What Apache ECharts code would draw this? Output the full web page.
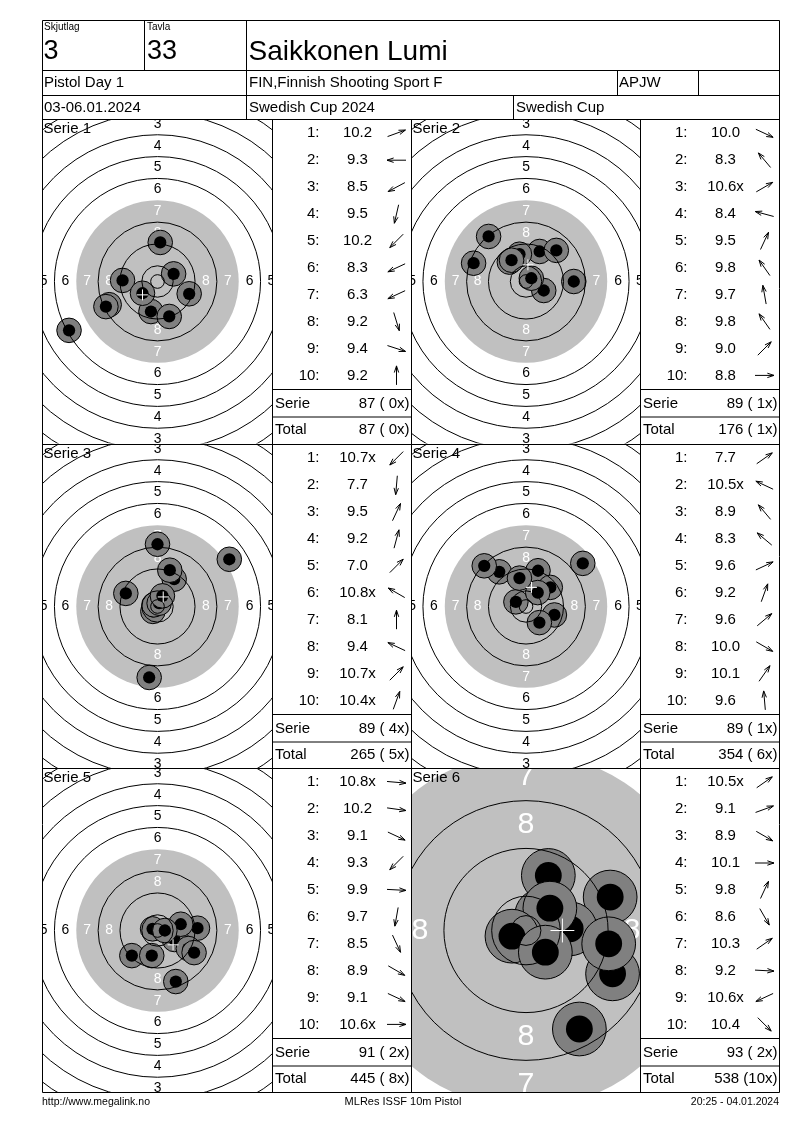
<!DOCTYPE html>
<html><head><meta charset="utf-8">
<script src="https://cdn.jsdelivr.net/npm/echarts@6/dist/echarts.min.js"></script>
<style>html,body{margin:0;padding:0;background:#fff;}#c{width:800px;height:1130px;}</style>
</head><body><div id="c"></div>
<script>
// ---------- DATA ----------
const shooterGroup = '3';
const targetNo = '33';
const shooterName = 'Saikkonen Lumi';
const eventName = 'Pistol Day 1';
const clubName = 'FIN,Finnish Shooting Sport F';
const classCode = 'APJW';
const dateText = '03-06.01.2024';
const competition = 'Swedish Cup 2024';
const competitionShort = 'Swedish Cup';
const footerLeft = 'http://www.megalink.no';
const footerMid = 'MLRes ISSF 10m Pistol';
const footerRight = '20:25 - 04.01.2024';
const serieNames = ['Serie 1','Serie 2','Serie 3','Serie 4','Serie 5','Serie 6'];

// ISSF 10m pistol target (mm)
const ringLineRadii = [77.75, 69.75, 61.75, 53.75, 45.75, 37.75, 21.75, 13.75, 5.75, 2.5];
const blackAreaRadius = [29.75];
const ringLabelValues = [1, 2, 3, 4, 5, 6, 7, 8];
const ringLabelRadii = [73.75, 65.75, 57.75, 49.75, 41.75, 33.75, 25.75, 17.75];

// shots (mm from centre, y up), score text, arrow direction (deg)
const serie1X = [5.9, -12.8, -17.7, -2.4, -5.5, -18.9, -32.4, 4.3, 11.6, 1.0];
const serie1Y = [2.8, 0.4, -8.5, -11.0, -4.3, -9.2, -17.9, -12.8, -4.5, 14.3];
const serie1Score = ['10.2','9.3','8.5','9.5','10.2','8.3','6.3','9.2','9.4','9.2'];
const serie1Dir = [20, 180, 208, 257, 225, 205, 205, 287, -18, 90];

const serie2X = [6.5, -13.7, 1.95, -19.2, 5.0, -6.1, -2.4, -5.3, 11.1, 17.5];
const serie2Y = [-3.3, 16.5, 1.2, 6.7, 11.0, 7.1, 10.0, 7.8, 11.4, 0];
const serie2Score = ['10.0','8.3','10.6x','8.4','9.5','9.8','9.7','9.8','9.0','8.8'];
const serie2Dir = [-25, 130, 30, 165, 65, 125, 100, 125, 45, 0];

const serie3X = [-1.7, -3.05, 6.1, 4.5, 26.3, -1.3, 0, -11.6, 0.6, 1.8];
const serie3Y = [-1.8, -26.0, 10.0, 13.3, 17.3, 0.6, 22.8, 4.8, 1.2, 3.9];
const serie3Score = ['10.7x','7.7','9.5','9.2','7.0','10.8x','8.1','9.4','10.7x','10.4x'];
const serie3Dir = [225, 265, 65, 75, 45, 150, 90, 155, 45, 70];

const serie4X = [20.8, -3.7, -9.8, -15.3, 10.4, 4.4, 8.9, 4.9, 4.3, -2.4];
const serie4Y = [15.8, 1.7, 12.7, 14.9, -3.1, 13.1, 7.0, -5.9, 5.1, 10.4];
const serie4Score = ['7.7','10.5x','8.9','8.3','9.6','9.2','9.6','10.0','10.1','9.6'];
const serie4Dir = [35, 155, 130, 140, 25, 70, 40, -30, 55, 95];

const serie5X = [-1.8, 6.2, 14.65, -9.4, 8.5, -2.1, 6.7, 11.3, 13.4, 2.7];
const serie5Y = [0.6, -3.3, 0.85, -9.2, 2.3, -9.2, -18.7, -6.6, -8.1, 0];
const serie5Score = ['10.8x','10.2','9.1','9.3','9.9','9.7','8.5','8.9','9.1','10.6x'];
const serie5Dir = [-5, -8, -25, 225, -3, 260, -65, -30, -25, 0];

const serie6X = [2.6, 14.1, 14.5, 7.4, 3.74, 8.94, 4.0, 13.85, -2.35, 3.24];
const serie6Y = [2.5, 5.6, -7.26, 0.28, 9.22, -16.5, 3.74, -2.23, -0.95, -3.63];
const serie6Score = ['10.5x','9.1','8.9','10.1','9.8','8.6','10.3','9.2','10.6x','10.4'];
const serie6Dir = [35, 20, -30, 0, 65, -60, 35, -3, 205, -45];

const groupCenterX = [-5.5, 0.7, 2.1, 2.0, 5.7, 6.1];
const groupCenterY = [-4.9, 6.1, 3.5, 7.0, -5.25, 0];

const serieTotals = ['87 ( 0x)','89 ( 1x)','89 ( 4x)','89 ( 1x)','91 ( 2x)','93 ( 2x)'];
const runningTotals = ['87 ( 0x)','176 ( 1x)','265 ( 5x)','354 ( 6x)','445 ( 8x)','538 (10x)'];

// ---------- LAYOUT ----------
const FONT = '"Liberation Sans", Arial, Helvetica, sans-serif';
const allX = [serie1X, serie2X, serie3X, serie4X, serie5X, serie6X];
const allY = [serie1Y, serie2Y, serie3Y, serie4Y, serie5Y, serie6Y];
const allScore = [serie1Score, serie2Score, serie3Score, serie4Score, serie5Score, serie6Score];
const allDir = [serie1Dir, serie2Dir, serie3Dir, serie4Dir, serie5Dir, serie6Dir];

const L = 42.5, C1 = 272.5, C2 = 411.5, C3 = 640.5, R = 779.5;
const rowTops = [119.5, 444.5, 768.5];
const ROWH = 324;
const cells = [];
for (let i = 0; i < 6; i++) {
  const col = i % 2, row = Math.floor(i / 2);
  cells.push({
    x: col ? C2 : L, w: col ? (C3 - C2) : (C1 - L),
    y: rowTops[row], h: ROWH,
    tx: col ? C3 : C1, tw: col ? (R - C3) : (C2 - C1),
    scale: i === 5 ? 5.97 : 2.73
  });
}

const grids = [], xAxes = [], yAxes = [], series = [];
cells.forEach((c, i) => {
  grids.push({left: c.x, top: c.y, width: c.w, height: c.h, containLabel: false});
  const hw = c.w / 2 / c.scale, hh = c.h / 2 / c.scale;
  xAxes.push({type: 'value', gridIndex: i, min: -hw, max: hw, show: false});
  yAxes.push({type: 'value', gridIndex: i, min: -hh, max: hh, show: false});
  const base = {type: 'custom', xAxisIndex: i, yAxisIndex: i, clip: true, silent: true, animation: false};
  // black (grey) aiming area
  series.push(Object.assign({}, base, {
    z: 1, data: blackAreaRadius.map(r => [r, 0]), encode: {x: 0, y: 1},
    renderItem: (p, api) => {
      const ctr = api.coord([0, 0]);
      const r = api.size([api.value(0), 0])[0];
      return {type: 'circle', shape: {cx: ctr[0], cy: ctr[1], r: r}, style: {fill: '#c0c0c0', stroke: null}};
    }
  }));
  // ring numbers
  series.push(Object.assign({}, base, {
    z: 2, data: ringLabelValues.map((v, k) => [ringLabelRadii[k], 0, v]), encode: {x: 0, y: 1},
    renderItem: (p, api) => {
      const r = api.value(0), v = api.value(2);
      const fs = api.size([5.1, 0])[0];
      const col = v >= 7 ? '#ffffff' : '#000000';
      const pts = [[0, r], [0, -r], [r, 0], [-r, 0]];
      return {type: 'group', children: pts.map(pt => {
        const q = api.coord(pt);
        return {type: 'text', style: {text: String(v), x: q[0], y: q[1], fill: col,
          font: fs.toFixed(1) + 'px ' + FONT, align: 'center', verticalAlign: 'middle',
          textAlign: 'center', textVerticalAlign: 'middle'}};
      })};
    }
  }));
  // shots
  series.push(Object.assign({}, base, {
    z: 3, data: allX[i].map((x, k) => [x, allY[i][k]]), encode: {x: 0, y: 1},
    renderItem: (p, api) => {
      const q = api.coord([api.value(0), api.value(1)]);
      const halo = api.size([4.5, 0])[0];
      const core = api.size([2.25, 0])[0];
      return {type: 'group', children: [
        {type: 'circle', shape: {cx: q[0], cy: q[1], r: halo}, style: {fill: '#808080', stroke: '#000', lineWidth: 1}},
        {type: 'circle', shape: {cx: q[0], cy: q[1], r: core}, style: {fill: '#000', stroke: null}}
      ]};
    }
  }));
  // ring lines
  series.push(Object.assign({}, base, {
    z: 4, data: ringLineRadii.map(r => [r, 0]), encode: {x: 0, y: 1},
    renderItem: (p, api) => {
      const ctr = api.coord([0, 0]);
      const r = api.size([api.value(0), 0])[0];
      return {type: 'circle', shape: {cx: ctr[0], cy: ctr[1], r: r}, style: {fill: 'none', stroke: '#000', lineWidth: 1}};
    }
  }));
  // group centre cross
  series.push(Object.assign({}, base, {
    z: 5, data: [[groupCenterX[i], groupCenterY[i]]], encode: {x: 0, y: 1},
    renderItem: (p, api) => {
      const q = api.coord([api.value(0), api.value(1)]);
      const s = api.size([2, 0])[0];
      return {type: 'group', children: [
        {type: 'line', shape: {x1: q[0] - s, y1: q[1], x2: q[0] + s, y2: q[1]}, style: {stroke: '#fff', lineWidth: 1}},
        {type: 'line', shape: {x1: q[0], y1: q[1] - s, x2: q[0], y2: q[1] + s}, style: {stroke: '#fff', lineWidth: 1}}
      ]};
    }
  }));
});

// ---------- GRAPHIC (frame, header, tables) ----------
const g = [];
const line = (x1, y1, x2, y2) => g.push({type: 'line', z: 100, silent: true,
  shape: {x1, y1, x2, y2}, style: {stroke: '#000', lineWidth: 1}});
const text = (t, x, y, size, align, color) => g.push({type: 'text', z: 101, silent: true,
  style: {text: t, x: x, y: y, fill: color || '#000', font: size + 'px ' + FONT,
    align: align || 'left', verticalAlign: 'middle', textAlign: align || 'left', textVerticalAlign: 'middle'}});

// outer frame & header lines
const TOP = 20.5, H1 = 70.5, H2 = 95.5, BOT = 1092.5;
line(L, TOP, R, TOP); line(L, H1, R, H1); line(L, H2, R, H2);
rowTops.forEach(y => line(L, y, R, y));
line(L, BOT, R, BOT);
line(L, TOP, L, BOT); line(R, TOP, R, BOT);
line(144.5, TOP, 144.5, H1); line(246.5, TOP, 246.5, rowTops[0]);
line(617.5, H1, 617.5, H2); line(698.5, H1, 698.5, H2);
line(513.5, H2, 513.5, rowTops[0]);
line(C1, rowTops[0], C1, BOT); line(C2, rowTops[0], C2, BOT); line(C3, rowTops[0], C3, BOT);

text('Skjutlag', 44, 27, 10);
text('Tavla', 147, 27, 10);
text(shooterGroup, 43.5, 52, 27);
text(targetNo, 147, 52, 27);
text(shooterName, 248.5, 52, 28);
text(eventName, 44, 83, 15);
text(clubName, 249, 83, 15);
text(classCode, 619, 83, 15);
text(dateText, 44, 108, 15);
text(competition, 249, 108, 15);
text(competitionShort, 516, 108, 15);

text(footerLeft, 42, 1102, 10.5);
text(footerMid, 403, 1102, 11, 'center');
text(footerRight, 779, 1102, 10.5, 'right');

cells.forEach((c, i) => {
  text(serieNames[i], c.x + 1, c.y + 9, 15);
  // table
  const yS = c.y + 270, yT = c.y + 297.5;
  line(c.tx, yS, c.tx + c.tw, yS);
  line(c.tx, yT, c.tx + c.tw, yT);
  allScore[i].forEach((s, k) => {
    const cy = c.y + 13.8 + 26.9 * k;
    text((k + 1) + ':', c.tx + 47, cy, 15, 'right');
    text(s, c.tx + 85, cy, 15, 'center');
    const a = allDir[i][k] * Math.PI / 180;
    const ax = c.tx + 124, ay = cy;
    const dx = Math.cos(a), dy = -Math.sin(a);
    const hx = ax + 9.5 * dx, hy = ay + 9.5 * dy;
    const tx0 = ax - 9.5 * dx, ty0 = ay - 9.5 * dy;
    const h1 = a + Math.PI - 0.32, h2 = a + Math.PI + 0.32;
    g.push({type: 'polyline', z: 100, silent: true, shape: {points: [[tx0, ty0], [hx, hy]]}, style: {stroke: '#000', lineWidth: 1, fill: null}});
    g.push({type: 'polyline', z: 100, silent: true, shape: {points: [
      [hx + 7 * Math.cos(h1), hy - 7 * Math.sin(h1)], [hx, hy], [hx + 7 * Math.cos(h2), hy - 7 * Math.sin(h2)]]},
      style: {stroke: '#000', lineWidth: 1, fill: null}});
  });
  text('Serie', c.tx + 2.5, c.y + 284, 15);
  text(serieTotals[i], c.tx + c.tw - 2, c.y + 284, 15, 'right');
  text('Total', c.tx + 2.5, c.y + 310.5, 15);
  text(runningTotals[i], c.tx + c.tw - 2, c.y + 310.5, 15, 'right');
});

const chart = echarts.init(document.getElementById('c'));
chart.setOption({
  animation: false,
  backgroundColor: '#ffffff',
  grid: grids, xAxis: xAxes, yAxis: yAxes, series: series,
  graphic: {elements: g}
});
</script></body></html>
